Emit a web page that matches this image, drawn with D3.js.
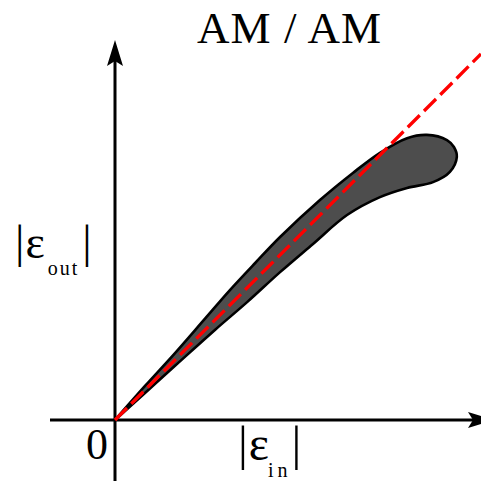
<!DOCTYPE html>
<html>
<head>
<meta charset="utf-8">
<script src="https://cdn.jsdelivr.net/npm/d3@7"></script>
<style>
  html, body { margin: 0; padding: 0; background: #fff; }
  svg { display: block; }
  text { font-family: "Liberation Serif", "DejaVu Serif", serif; fill: #000; }
</style>
</head>
<body>
<svg id="chart" width="481" height="481"></svg>
<script>
// Upper branch of the AM/AM hysteresis region, from the origin to the far end
const upperX = [0, 8.2, 16.4, 24.6, 31.4, 38.3, 45.1, 56.0, 65.0, 72.4, 79.8, 85.2, 90.7, 92.6, 93.4];
const upperY = [0, 9.3, 18.3, 27.7, 35.5, 42.9, 50.0, 60.1, 67.5, 73.0, 77.0, 77.9, 76.5, 74.6, 71.9];
// Lower branch, running back from the far end to the origin
const lowerX = [91.5, 86.9, 79.8, 72.4, 63.4, 54.1, 45.1, 36.1, 27.3, 16.4, 8.2, 0];
const lowerY = [67.8, 65.0, 63.4, 60.9, 56.0, 48.1, 40.4, 32.2, 24.6, 14.8, 7.4, 0];
// Ideal linear response |eps_out| = |eps_in|
const linearX = [0, 100];
const linearY = [0, 100];
const originLabel = "0";
const titleText = "AM / AM";

const svg = d3.select("#chart");
const x = d3.scaleLinear().domain([0, 100]).range([115, 481]);
const y = d3.scaleLinear().domain([0, 100]).range([420, 54]);

const x0 = x(0), y0 = y(0);

// hysteresis region
const outline = upperX.map((v, i) => [v, upperY[i]])
  .concat(lowerX.map((v, i) => [v, lowerY[i]]));
const line = d3.line().x(d => x(d[0])).y(d => y(d[1])).curve(d3.curveCatmullRom.alpha(0.5));
svg.append("path")
  .attr("d", line(outline) + "Z")
  .attr("fill", "#4d4d4d")
  .attr("stroke", "#000")
  .attr("stroke-width", 2.6)
  .attr("stroke-linejoin", "round");

// axes with stealth arrow heads
function arrowHead(tx, ty, angle) {
  const len = 26, half = 8, notch = 21;
  const pts = [[0, 0], [-len, -half], [-notch, 0], [-len, half]];
  const c = Math.cos(angle), s = Math.sin(angle);
  return "M" + pts.map(p => [tx + p[0] * c - p[1] * s, ty + p[0] * s + p[1] * c].join(",")).join("L") + "Z";
}
svg.append("line")
  .attr("x1", 50).attr("y1", y0).attr("x2", 475).attr("y2", y0)
  .attr("stroke", "#000").attr("stroke-width", 3);
svg.append("path").attr("d", arrowHead(494, y0, 0)).attr("fill", "#000");
svg.append("line")
  .attr("x1", x0).attr("y1", 481).attr("x2", x0).attr("y2", 60)
  .attr("stroke", "#000").attr("stroke-width", 3);
svg.append("path").attr("d", arrowHead(x0, 40, -Math.PI / 2)).attr("fill", "#000");

// linear reference
svg.append("line")
  .attr("x1", x(linearX[0])).attr("y1", y(linearY[0]))
  .attr("x2", x(linearX[1])).attr("y2", y(linearY[1]))
  .attr("stroke", "#ff0000")
  .attr("stroke-width", 3.3)
  .attr("stroke-dasharray", "17,6");

// title
svg.append("text")
  .attr("x", 197).attr("y", 43)
  .attr("font-size", 45)
  .attr("textLength", 184)
  .attr("lengthAdjust", "spacing")
  .text(titleText);

// origin label
svg.append("text")
  .attr("x", 108).attr("y", 459)
  .attr("text-anchor", "end")
  .attr("font-size", 44)
  .text(originLabel);

// |eps| labels with delimiters and subscript
function absLabel(x0, base, barSize, epsSize, sub, cfg) {
  const t = svg.append("text").attr("x", x0).attr("y", base);
  t.append("tspan").attr("font-size", barSize).text("|");
  t.append("tspan").attr("font-size", epsSize).attr("dx", cfg.epsDx).attr("dy", cfg.epsDy).text("ε");
  t.append("tspan").attr("font-size", 20).attr("dx", cfg.subDx).attr("dy", cfg.subDy)
    .attr("letter-spacing", cfg.subSpacing).text(sub);
  t.append("tspan").attr("font-size", barSize).attr("dx", cfg.barDx).attr("dy", -(cfg.epsDy + cfg.subDy)).text("|");
}
absLabel(238, 460, 49, 48, "in", { epsDx: 1, epsDy: 0, subDx: -1, subDy: 17, subSpacing: 4, barDx: 0 });
absLabel(15, 257, 47, 46, "out", { epsDx: 1, epsDy: 1, subDx: 3, subDy: 17, subSpacing: 2, barDx: 3 });
</script>
</body>
</html>
